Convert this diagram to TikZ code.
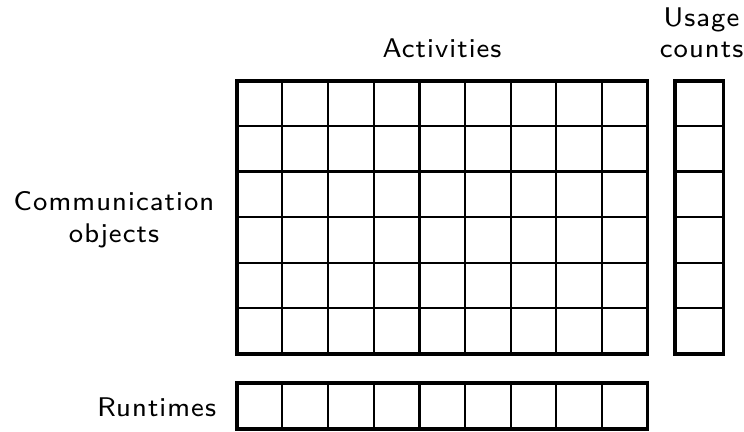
\documentclass[tikz,border=0pt]{standalone}
\usepackage{fontspec}
\newfontfamily\lblfont{lmsans8-regular.otf}[LetterSpace=4]
\begin{document}
\begin{tikzpicture}[x=1pt,y=-1pt,
  thin line/.style={line width=2.0pt},
  mid line/.style={line width=2.9pt},
  outer line/.style={line width=3.7pt,line join=miter},
  lbl/.style={font=\lblfont\fontsize{27}{32}\selectfont, inner sep=0pt, align=center}]
\useasboundingbox (0,0) rectangle (744,431);
% main grid
\def\xa{236.7}\def\ya{80.7}\def\cw{45.65}\def\rh{45.5}
\foreach \i in {1,2,3,5,6,7,8} \draw[thin line] (\xa+\i*\cw,\ya) -- (\xa+\i*\cw,\ya+6*\rh);
\draw[mid line] (\xa+4*\cw,\ya) -- (\xa+4*\cw,\ya+6*\rh);
\foreach \j in {1,3,4,5} \draw[thin line] (\xa,\ya+\j*\rh) -- (\xa+9*\cw,\ya+\j*\rh);
\draw[mid line] (\xa,\ya+2*\rh) -- (\xa+9*\cw,\ya+2*\rh);
\draw[outer line] (\xa,\ya) rectangle (\xa+9*\cw,\ya+6*\rh);
% usage counts column
\foreach \j in {1,3,4,5} \draw[thin line] (675.3,\ya+\j*\rh) -- (723.4,\ya+\j*\rh);
\draw[mid line] (675.3,\ya+2*\rh) -- (723.4,\ya+2*\rh);
\draw[outer line] (675.3,\ya) rectangle (723.4,\ya+6*\rh);
% runtimes row
\foreach \i in {1,2,3,5,6,7,8} \draw[thin line] (\xa+\i*\cw,382.7) -- (\xa+\i*\cw,429.2);
\draw[mid line] (\xa+4*\cw,382.7) -- (\xa+4*\cw,429.2);
\draw[outer line] (\xa,382.7) rectangle (\xa+9*\cw,429.2);
% labels
\node[lbl, anchor=base] (act) at (442,57) {Activities};
\node[lbl, anchor=base] (usage) at (701.5,26.5) {Usage};
\node[lbl, anchor=base] (counts) at (701.5,57.5) {counts};
\node[lbl, anchor=base] (comm) at (114,210) {Communication};
\node[lbl, anchor=base] (obj) at (114,242) {objects};
\node[lbl, anchor=base] (rt) at (156.7,416) {Runtimes};
\end{tikzpicture}
\end{document}
